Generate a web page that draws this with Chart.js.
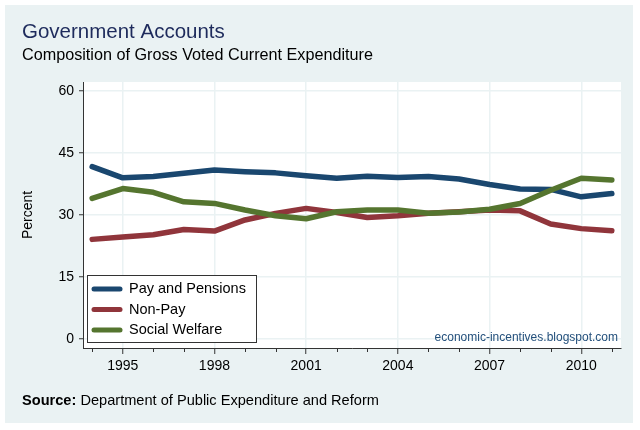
<!DOCTYPE html>
<html>
<head>
<meta charset="utf-8">
<script src="https://cdn.jsdelivr.net/npm/chart.js@4/dist/chart.umd.min.js"></script>
<style>
  body { margin: 0; background: #fff; }
  #wrap { width: 640px; height: 430px; }
</style>
</head>
<body>
<div id="wrap"><canvas id="govChart" width="640" height="430"></canvas></div>
<script>
const years = [1994, 1995, 1996, 1997, 1998, 1999, 2000, 2001, 2002, 2003, 2004, 2005, 2006, 2007, 2008, 2009, 2010, 2011];
const payPensions = [41.7, 39.0, 39.3, 40.1, 40.9, 40.5, 40.2, 39.5, 38.9, 39.4, 39.1, 39.3, 38.7, 37.4, 36.3, 36.2, 34.4, 35.2];
const nonPay = [24.1, 24.7, 25.2, 26.5, 26.1, 28.8, 30.4, 31.6, 30.6, 29.4, 29.8, 30.4, 30.8, 31.2, 31.0, 27.8, 26.7, 26.2];
const socialWelfare = [34.0, 36.4, 35.5, 33.2, 32.8, 31.2, 29.8, 29.1, 30.8, 31.2, 31.2, 30.4, 30.7, 31.4, 32.8, 36.0, 38.9, 38.5];
const xTicks = [1995, 1998, 2001, 2004, 2007, 2010];
const yTicks = [0, 15, 30, 45, 60];

const FONT = "'Liberation Sans', Arial, sans-serif";
const BG = '#eaf2f3';

function toPoints(vals) {
  return vals.map((v, i) => ({ x: years[i], y: v }));
}

// background, titles, minor ticks, legend box, watermark
const decor = {
  id: 'decor',
  beforeDraw(chart) {
    const { ctx, chartArea: a } = chart;
    ctx.save();
    ctx.fillStyle = '#fff';
    ctx.fillRect(0, 0, chart.width, chart.height);
    ctx.fillStyle = BG;
    ctx.fillRect(5, 5, 628, 418);
    ctx.fillStyle = '#fff';
    ctx.fillRect(a.left, a.top, a.right - a.left, a.bottom - a.top);

    ctx.textAlign = 'left';
    ctx.textBaseline = 'alphabetic';
    ctx.fillStyle = '#1e2b5c';
    ctx.font = '20.5px ' + FONT;
    ctx.fillText('Government Accounts', 22, 38);
    ctx.fillStyle = '#000';
    ctx.font = '16.2px ' + FONT;
    ctx.fillText('Composition of Gross Voted Current Expenditure', 22, 60);

    ctx.font = 'bold 14.6px ' + FONT;
    ctx.fillText('Source:', 22, 405);
    const w = ctx.measureText('Source: ').width;
    ctx.font = '14.6px ' + FONT;
    ctx.fillText('Department of Public Expenditure and Reform', 22 + w, 405);
    ctx.restore();
  },
  afterDraw(chart) {
    const { ctx, chartArea: a } = chart;
    const xs = chart.scales.x;
    ctx.save();
    // minor year ticks
    ctx.strokeStyle = '#333';
    ctx.lineWidth = 1;
    years.forEach(yr => {
      if (xTicks.includes(yr)) return;
      const px = Math.round(xs.getPixelForValue(yr)) + 0.5;
      ctx.beginPath();
      ctx.moveTo(px, a.bottom);
      ctx.lineTo(px, a.bottom + 4);
      ctx.stroke();
    });

    // legend
    const lx = 87, ly = 275, lw = 169, lh = 67;
    ctx.fillStyle = '#fff';
    ctx.fillRect(lx, ly, lw, lh);
    ctx.strokeStyle = '#333';
    ctx.strokeRect(lx + 0.5, ly + 0.5, lw, lh);
    ctx.font = '14.5px ' + FONT;
    ctx.textBaseline = 'middle';
    ctx.textAlign = 'left';
    chart.data.datasets.forEach((ds, i) => {
      const ry = 289 + i * 20.5;
      ctx.strokeStyle = ds.borderColor;
      ctx.lineWidth = 5;
      ctx.lineCap = 'round';
      ctx.beginPath();
      ctx.moveTo(94, ry);
      ctx.lineTo(120, ry);
      ctx.stroke();
      ctx.fillStyle = '#000';
      ctx.fillText(ds.label, 129, ry);
    });

    // watermark
    ctx.fillStyle = '#24507c';
    ctx.font = '12px ' + FONT;
    ctx.textAlign = 'right';
    ctx.fillText('economic-incentives.blogspot.com', 618, 338);
    ctx.restore();
  }
};

const data = {
  datasets: [{
    label: 'Pay and Pensions',
    data: toPoints(payPensions),
    borderColor: '#1a476f',
    order: 1
  }, {
    label: 'Non-Pay',
    data: toPoints(nonPay),
    borderColor: '#90353b',
    order: 2
  }, {
    label: 'Social Welfare',
    data: toPoints(socialWelfare),
    borderColor: '#55752f',
    order: 0
  }]
};

const config = {
  type: 'line',
  data: data,
  options: {
    responsive: false,
    animation: false,
    layout: { padding: { top: 82, right: 19, left: 0, bottom: 0 } },
    elements: {
      line: { borderWidth: 5.5, tension: 0, borderCapStyle: 'round', borderJoinStyle: 'round', fill: false },
      point: { radius: 0, hoverRadius: 0 }
    },
    plugins: {
      legend: { display: false },
      tooltip: { enabled: false }
    },
    scales: {
      x: {
        type: 'linear',
        min: 1993.7,
        max: 2011.3,
        afterBuildTicks: s => { s.ticks = xTicks.map(v => ({ value: v })); },
        afterFit: s => { s.height = 82; },
        grid: { color: BG, lineWidth: 1.5, tickColor: '#333', tickLength: 6, tickWidth: 1 },
        border: { color: '#333', width: 1 },
        ticks: {
          color: '#000',
          font: { family: FONT, size: 14 },
          padding: 4,
          maxRotation: 0,
          callback: v => String(v)
        }
      },
      y: {
        min: -2.2,
        max: 62.2,
        afterBuildTicks: s => { s.ticks = yTicks.map(v => ({ value: v })); },
        afterFit: s => { s.width = 83; },
        grid: { color: BG, lineWidth: 1.5, tickColor: '#333', tickLength: 4, tickWidth: 1 },
        border: { color: '#333', width: 1 },
        title: {
          display: true,
          text: 'Percent',
          color: '#000',
          font: { family: FONT, size: 14 },
          padding: { top: 20, bottom: 0 }
        },
        ticks: {
          color: '#000',
          font: { family: FONT, size: 14 },
          padding: 5
        }
      }
    }
  },
  plugins: [decor]
};

const chart = new Chart(document.getElementById('govChart'), config);
</script>
</body>
</html>
